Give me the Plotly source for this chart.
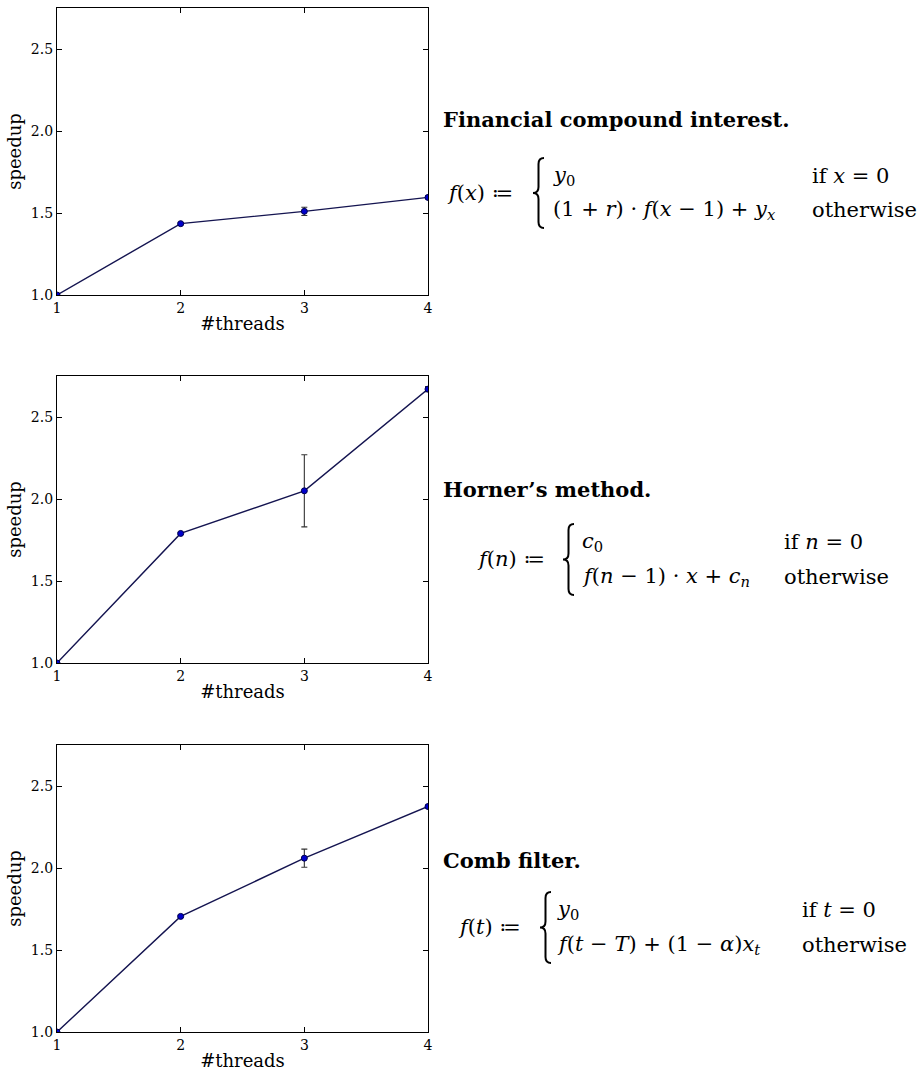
import plotly.graph_objects as go

W, H = 917, 1071

# ---------------- data ----------------
threads = [1, 2, 3, 4]
x_ticks = [1, 2, 3, 4]
x_tick_labels = ["1", "2", "3", "4"]
y_ticks = [1.0, 1.5, 2.0, 2.5]
y_tick_labels = ["1.0", "1.5", "2.0", "2.5"]
y_range = [1.0, 2.75]
x_range = [1, 4]

speedup_interest = [1.0, 1.435, 1.51, 1.595]
err_interest = [0.0, 0.006, 0.025, 0.008]
speedup_horner = [1.0, 1.79, 2.05, 2.67]
err_horner = [0.0, 0.006, 0.22, 0.015]
speedup_comb = [1.0, 1.705, 2.06, 2.375]
err_comb = [0.0, 0.006, 0.055, 0.008]

x_title = "#threads"
y_title = "speedup"

titles = ["Financial compound interest.", "Horner\u2019s method.", "Comb filter."]
lhs = ["<i>f</i>(<i>x</i>) \u2254", "<i>f</i>(<i>n</i>) \u2254", "<i>f</i>(<i>t</i>) \u2254"]
case1 = ["<i>y</i><sub>0</sub>", "<i>c</i><sub>0</sub>", "<i>y</i><sub>0</sub>"]
case2 = [
    "(1 + <i>r</i>) \u00b7 <i>f</i>(<i>x</i> \u2212 1) + <i>y</i><sub><i>x</i></sub>",
    "<i>f</i>(<i>n</i> \u2212 1) \u00b7 <i>x</i> + <i>c</i><sub><i>n</i></sub>",
    "<i>f</i>(<i>t</i> \u2212 <i>T</i>) + (1 \u2212 <i>\u03b1</i>)<i>x</i><sub><i>t</i></sub>",
]
cond1 = ["if <i>x</i> = 0", "if <i>n</i> = 0", "if <i>t</i> = 0"]
cond2 = ["otherwise", "otherwise", "otherwise"]

series = [
    (speedup_interest, err_interest),
    (speedup_horner, err_horner),
    (speedup_comb, err_comb),
]

# ---------------- layout geometry (pixels) ----------------
ax_left, ax_right = 57, 428
panels = [(8, 295), (376, 663), (745, 1032)]
text_pos = [
    dict(head_y=119, lhs_x=445, lhs_y=193, brace_x=533, r1=176, r2=210, case_x=551, cond_x=810),
    dict(head_y=490, lhs_x=475, lhs_y=559, brace_x=563, r1=542, r2=577, case_x=580, cond_x=782),
    dict(head_y=860, lhs_x=456, lhs_y=927, brace_x=540, r1=910, r2=945, case_x=555, cond_x=800),
]
head_x = 441

SERIF = "DejaVu Serif"
LINE_COLOR = "#141450"
MARKER_COLOR = "#0000cc"
FORM_SIZE = 21


def px(xp):
    return xp / W


def py(yp):
    return 1 - yp / H


fig = go.Figure()
layout = dict(
    width=W, height=H,
    margin=dict(l=0, r=0, t=0, b=0),
    paper_bgcolor="white", plot_bgcolor="white",
    showlegend=False,
    template="none",
    font=dict(family=SERIF, color="black", size=14),
)

annotations = []
shapes = []

for i, ((vals, errs), (top, bot), tp) in enumerate(zip(series, panels, text_pos)):
    n = "" if i == 0 else str(i + 1)
    xa = "x" + n
    ya = "y" + n
    fig.add_trace(go.Scatter(
        x=threads, y=vals, xaxis=xa, yaxis=ya,
        mode="lines+markers",
        line=dict(color=LINE_COLOR, width=1.4),
        marker=dict(size=6, color=MARKER_COLOR, line=dict(color="#00004d", width=1)),
        error_y=dict(type="data", array=errs, visible=True, color="#333333", thickness=1.1, width=3),
    ))
    layout["xaxis" + n] = dict(
        domain=[px(ax_left), px(ax_right)], anchor=ya, range=x_range,
        tickmode="array", tickvals=x_ticks, ticktext=x_tick_labels,
        ticks="inside", ticklen=5, tickwidth=1, tickcolor="black",
        showline=True, linecolor="black", linewidth=1.2, mirror="ticks",
        showgrid=False, zeroline=False, automargin=False,
        tickfont=dict(family=SERIF, size=14, color="black"),
        title=dict(text=x_title, font=dict(family=SERIF, size=18, color="black"), standoff=2),
    )
    layout["yaxis" + n] = dict(
        domain=[py(bot), py(top)], anchor=xa, range=y_range,
        tickmode="array", tickvals=y_ticks, ticktext=y_tick_labels,
        ticks="inside", ticklen=5, tickwidth=1, tickcolor="black",
        showline=True, linecolor="black", linewidth=1.2, mirror="ticks",
        showgrid=False, zeroline=False, automargin=False,
        tickfont=dict(family=SERIF, size=14, color="black"),
        title=dict(text=y_title, font=dict(family=SERIF, size=18, color="black"), standoff=4),
    )

    # header
    annotations.append(dict(
        text="<b>" + titles[i] + "</b>", x=px(head_x), y=py(tp["head_y"]),
        xref="paper", yref="paper", xanchor="left", yanchor="middle", showarrow=False,
        font=dict(family=SERIF, size=21, color="black"),
    ))
    # lhs
    annotations.append(dict(
        text=lhs[i], x=px(tp["lhs_x"]), y=py(tp["lhs_y"]),
        xref="paper", yref="paper", xanchor="left", yanchor="middle", showarrow=False,
        font=dict(family=SERIF, size=FORM_SIZE, color="black"),
    ))
    for txt, xx, yy in [
        (case1[i], tp["case_x"], tp["r1"]),
        (case2[i], tp["case_x"], tp["r2"]),
        (cond1[i], tp["cond_x"], tp["r1"]),
        (cond2[i], tp["cond_x"], tp["r2"]),
    ]:
        annotations.append(dict(
            text=txt, x=px(xx), y=py(yy),
            xref="paper", yref="paper", xanchor="left", yanchor="middle", showarrow=False,
            font=dict(family=SERIF, size=FORM_SIZE, color="black"),
        ))
    # curly brace
    bx = tp["brace_x"]
    bw = 11
    yt = tp["r1"] - 18
    yb = tp["r2"] + 18
    ym = (yt + yb) / 2
    r = 6
    xm = bx + bw / 2
    pts = (
        f"M {px(bx + bw)},{py(yt)} "
        f"Q {px(xm)},{py(yt)} {px(xm)},{py(yt + r)} "
        f"L {px(xm)},{py(ym - r)} "
        f"Q {px(xm)},{py(ym)} {px(bx)},{py(ym)} "
        f"Q {px(xm)},{py(ym)} {px(xm)},{py(ym + r)} "
        f"L {px(xm)},{py(yb - r)} "
        f"Q {px(xm)},{py(yb)} {px(bx + bw)},{py(yb)}"
    )
    shapes.append(dict(type="path", path=pts, xref="paper", yref="paper",
                       line=dict(color="black", width=2)))

layout["annotations"] = annotations
layout["shapes"] = shapes
fig.update_layout(**layout)

fig.write_html("out.html", config={"displayModeBar": False},
               post_script="document.body.style.margin='0';")
